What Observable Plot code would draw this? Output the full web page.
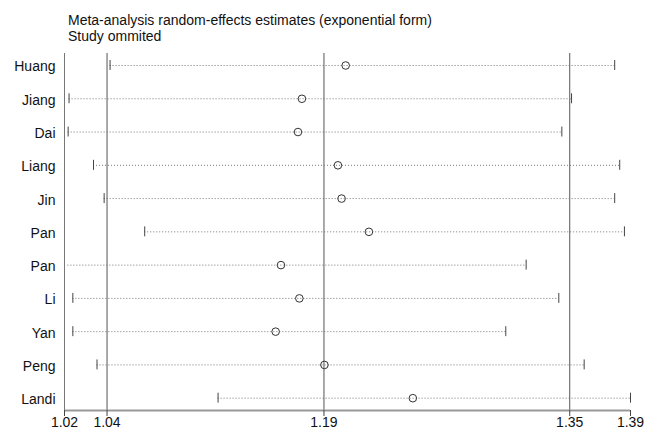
<!DOCTYPE html>
<html>
<head>
<meta charset="utf-8">
<script src="https://cdn.jsdelivr.net/npm/d3@7"></script>
<script src="https://cdn.jsdelivr.net/npm/@observablehq/plot@0.6"></script>
<style>
  html, body { margin: 0; padding: 0; background: #fff; }
  #wrap { position: relative; width: 648px; height: 430px; overflow: hidden; }
  #title { position: absolute; left: 68px; top: 12px; font: 14px "Liberation Sans", Arial, sans-serif; line-height: 16px; color: #111; z-index: 2; }
  #chart { position: absolute; left: 0; top: 0; }
</style>
</head>
<body>
<div id="wrap">
  <div id="title">Meta-analysis random-effects estimates (exponential form)<br>Study ommited</div>
  <div id="chart"></div>
</div>
<script>
// Study omitted (in plotted order, top to bottom)
const studies = ["Huang", "Jiang", "Dai", "Liang", "Jin", "Pan", "Pan", "Li", "Yan", "Peng", "Landi"];
// Pooled estimate with the study omitted
const estimate = [1.2006, 1.1718, 1.1692, 1.1955, 1.1979, 1.2159, 1.1580, 1.1701, 1.1545, 1.1866, 1.2448];
// 95% CI lower / upper bounds
const lower = [1.0455, 1.0185, 1.0179, 1.0346, 1.0416, 1.0683, 1.0177, 1.0210, 1.0210, 1.0369, 1.1166];
const upper = [1.3777, 1.3493, 1.3429, 1.3810, 1.3777, 1.3841, 1.3194, 1.3409, 1.3060, 1.3576, 1.3881];
// whether the lower end cap is drawn
const lowerCap = [true, true, true, true, true, true, false, true, true, true, true];
// x-axis tick values (labels shown rounded to 2 decimals)
const xTicks = [1.0155, 1.0435, 1.1863, 1.3481, 1.3881];
// overall CI lower, overall estimate, overall CI upper
const refLines = [1.0435, 1.1863, 1.3481];

const rows = studies.map((s, i) => ({i, s, est: estimate[i], lo: lower[i], hi: upper[i], cap: lowerCap[i]}));
const yDomain = [-0.3607, 10.37];
const capH = 0.15;

const chart = Plot.plot({
  width: 648,
  height: 430,
  marginTop: 53,
  marginBottom: 20,
  marginLeft: 64,
  marginRight: 18,
  style: {fontFamily: "'Liberation Sans', Arial, sans-serif", fontSize: "14px", color: "#111", background: "transparent"},
  x: {domain: [xTicks[0], xTicks[xTicks.length - 1]]},
  y: {domain: yDomain, reverse: true},
  marks: [
    Plot.ruleX(refLines, {stroke: "#555", strokeWidth: 1}),
    Plot.ruleX([xTicks[0]], {stroke: "#777", strokeWidth: 1}),
    Plot.ruleY(rows, {y: "i", x1: "lo", x2: "hi", stroke: "#777", strokeWidth: 1, strokeDasharray: "1,2"}),
    Plot.ruleX(rows.filter(d => d.cap), {x: "lo", y1: d => d.i - capH, y2: d => d.i + capH, stroke: "#444", strokeWidth: 1}),
    Plot.ruleX(rows, {x: "hi", y1: d => d.i - capH, y2: d => d.i + capH, stroke: "#444", strokeWidth: 1}),
    Plot.dot(rows, {x: "est", y: "i", r: 3.8, stroke: "#333", strokeWidth: 1, fill: "none"}),
    Plot.ruleY([yDomain[1]], {stroke: "#999", strokeWidth: 2}),
    Plot.axisX({ticks: xTicks, tickFormat: d3.format(".2f"), tickSize: 6, tickPadding: 1, label: null, stroke: "#444"}),
    Plot.axisY({ticks: d3.range(studies.length), tickFormat: i => studies[i], tickSize: 0, tickPadding: 9, label: null, dy: 1.5})
  ]
});
document.getElementById("chart").appendChild(chart);
</script>
</body>
</html>
